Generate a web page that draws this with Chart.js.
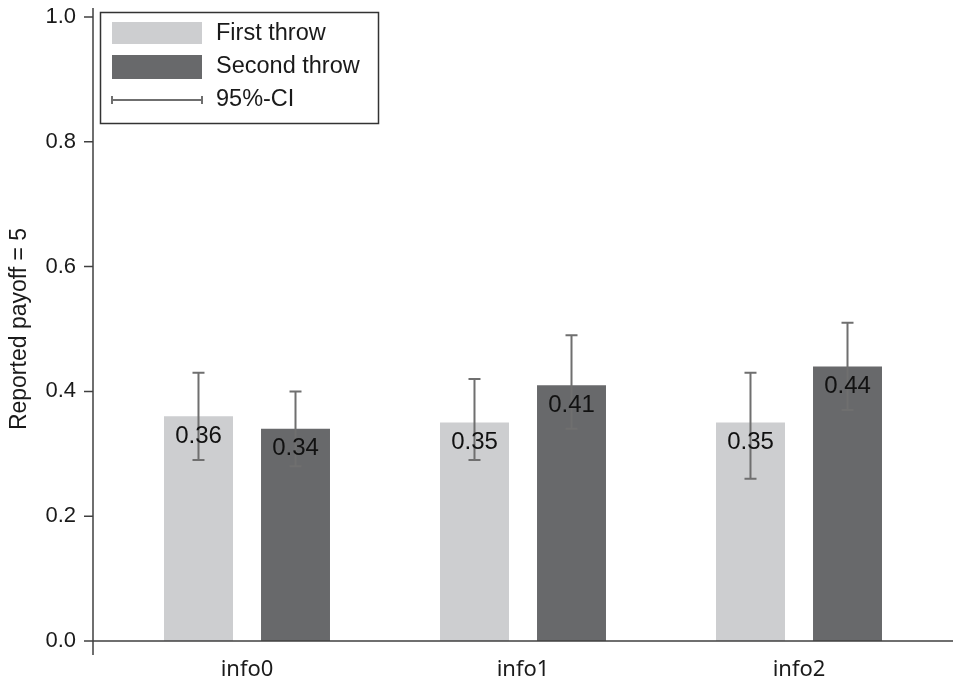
<!DOCTYPE html>
<html>
<head>
<meta charset="utf-8">
<script src="https://cdn.jsdelivr.net/npm/chart.js@4"></script>
<style>
  body { margin: 0; background: #fff; }
</style>
</head>
<body>
<canvas id="myChart" width="953" height="682"></canvas>
<script>
// values
var categories = ['info0', 'info1', 'info2'];
var seriesNames = ['First throw', 'Second throw'];
var firstThrow = [0.36, 0.35, 0.35];
var secondThrow = [0.34, 0.41, 0.44];
var firstLow = [0.29, 0.29, 0.26];
var firstHigh = [0.43, 0.42, 0.43];
var secondLow = [0.28, 0.34, 0.37];
var secondHigh = [0.40, 0.49, 0.51];
var ciLabel = '95%-CI';
var yTicks = [0, 0.2, 0.4, 0.6, 0.8, 1.0];

var FONT = '"Liberation Sans", Arial, sans-serif';
var lightGray = '#cdced0';
var darkGray = '#68696b';
var ciColor = '#6f6f6f';
var axisColor = '#404040';

var ciLow = [firstLow, secondLow];
var ciHigh = [firstHigh, secondHigh];

// error bars, value labels, axes and legend
var extras = {
  id: 'extras',
  afterDatasetsDraw: function (chart) {
    var ctx = chart.ctx;
    var y = chart.scales.y;
    ctx.save();
    chart.data.datasets.forEach(function (ds, di) {
      var meta = chart.getDatasetMeta(di);
      meta.data.forEach(function (bar, i) {
        var yl = y.getPixelForValue(ciLow[di][i]);
        var yh = y.getPixelForValue(ciHigh[di][i]);
        ctx.strokeStyle = ciColor;
        ctx.lineWidth = 2;
        ctx.beginPath();
        ctx.moveTo(bar.x, yl); ctx.lineTo(bar.x, yh);
        ctx.moveTo(bar.x - 6, yl); ctx.lineTo(bar.x + 6, yl);
        ctx.moveTo(bar.x - 6, yh); ctx.lineTo(bar.x + 6, yh);
        ctx.stroke();
      });
    });
    chart.data.datasets.forEach(function (ds, di) {
      var meta = chart.getDatasetMeta(di);
      meta.data.forEach(function (bar, i) {
        ctx.fillStyle = '#111';
        ctx.font = '24px ' + FONT;
        ctx.textAlign = 'center';
        ctx.textBaseline = 'middle';
        ctx.fillText(ds.data[i].toFixed(2), bar.x, bar.y + 20);
      });
    });
    ctx.restore();
  },
  afterDraw: function (chart) {
    var ctx = chart.ctx;
    var y = chart.scales.y;
    var area = chart.chartArea;
    var ax = 93;
    ctx.save();
    // axes
    ctx.strokeStyle = axisColor;
    ctx.lineWidth = 1.5;
    ctx.beginPath();
    ctx.moveTo(ax, 8); ctx.lineTo(ax, 655);
    ctx.moveTo(ax, area.bottom); ctx.lineTo(953, area.bottom);
    yTicks.forEach(function (t) {
      var py = y.getPixelForValue(t);
      ctx.moveTo(ax - 9, py); ctx.lineTo(ax, py);
    });
    ctx.stroke();

    // legend
    ctx.strokeStyle = '#333';
    ctx.lineWidth = 1.5;
    ctx.strokeRect(100.5, 12.5, 278, 111);
    ctx.fillStyle = lightGray;
    ctx.fillRect(112, 22, 90, 22);
    ctx.fillStyle = darkGray;
    ctx.fillRect(112, 55, 90, 24);
    ctx.strokeStyle = ciColor;
    ctx.lineWidth = 2;
    ctx.beginPath();
    ctx.moveTo(112, 100); ctx.lineTo(202, 100);
    ctx.moveTo(112, 96); ctx.lineTo(112, 104);
    ctx.moveTo(202, 96); ctx.lineTo(202, 104);
    ctx.stroke();
    ctx.fillStyle = '#1a1a1a';
    ctx.font = '23.5px ' + FONT;
    ctx.textAlign = 'left';
    ctx.textBaseline = 'middle';
    ctx.fillText(seriesNames[0], 216, 34);
    ctx.fillText(seriesNames[1], 216, 67);
    ctx.fillText(ciLabel, 216, 100);
    ctx.restore();
  }
};

var ctx = document.getElementById('myChart').getContext('2d');
var myChart = new Chart(ctx, {
  type: 'bar',
  data: {
    labels: categories,
    datasets: [{
      label: seriesNames[0],
      data: firstThrow,
      backgroundColor: lightGray,
      borderWidth: 0
    },
    {
      label: seriesNames[1],
      data: secondThrow,
      backgroundColor: darkGray,
      borderWidth: 0
    }]
  },
  options: {
    responsive: false,
    animation: false,
    categoryPercentage: 0.703,
    barPercentage: 0.711,
    layout: { padding: { top: 17, right: 16, left: 0, bottom: 0 } },
    plugins: {
      legend: { display: false },
      tooltip: { enabled: false }
    },
    scales: {
      x: {
        grid: { display: false },
        border: { display: false },
        ticks: { color: '#1a1a1a', font: { family: '"Noto Sans", sans-serif', size: 22 }, padding: 8 },
        afterFit: function (scale) { scale.height = 41; scale.paddingLeft = 0; scale.paddingRight = 0; }
      },
      y: {
        min: 0,
        max: 1,
        grid: { display: false },
        border: { display: false },
        ticks: {
          stepSize: 0.2,
          color: '#1a1a1a',
          font: { family: FONT, size: 22 },
          padding: 25,
          callback: function (v) { return v.toFixed(1); }
        },
        title: {
          display: true,
          text: 'Reported payoff = 5',
          color: '#1a1a1a',
          font: { family: FONT, size: 23 },
          padding: { top: 6, bottom: 0 }
        },
        afterFit: function (scale) { scale.width = 109; scale.paddingTop = 0; scale.paddingBottom = 0; }
      }
    }
  },
  plugins: [extras]
});
</script>
</body>
</html>
